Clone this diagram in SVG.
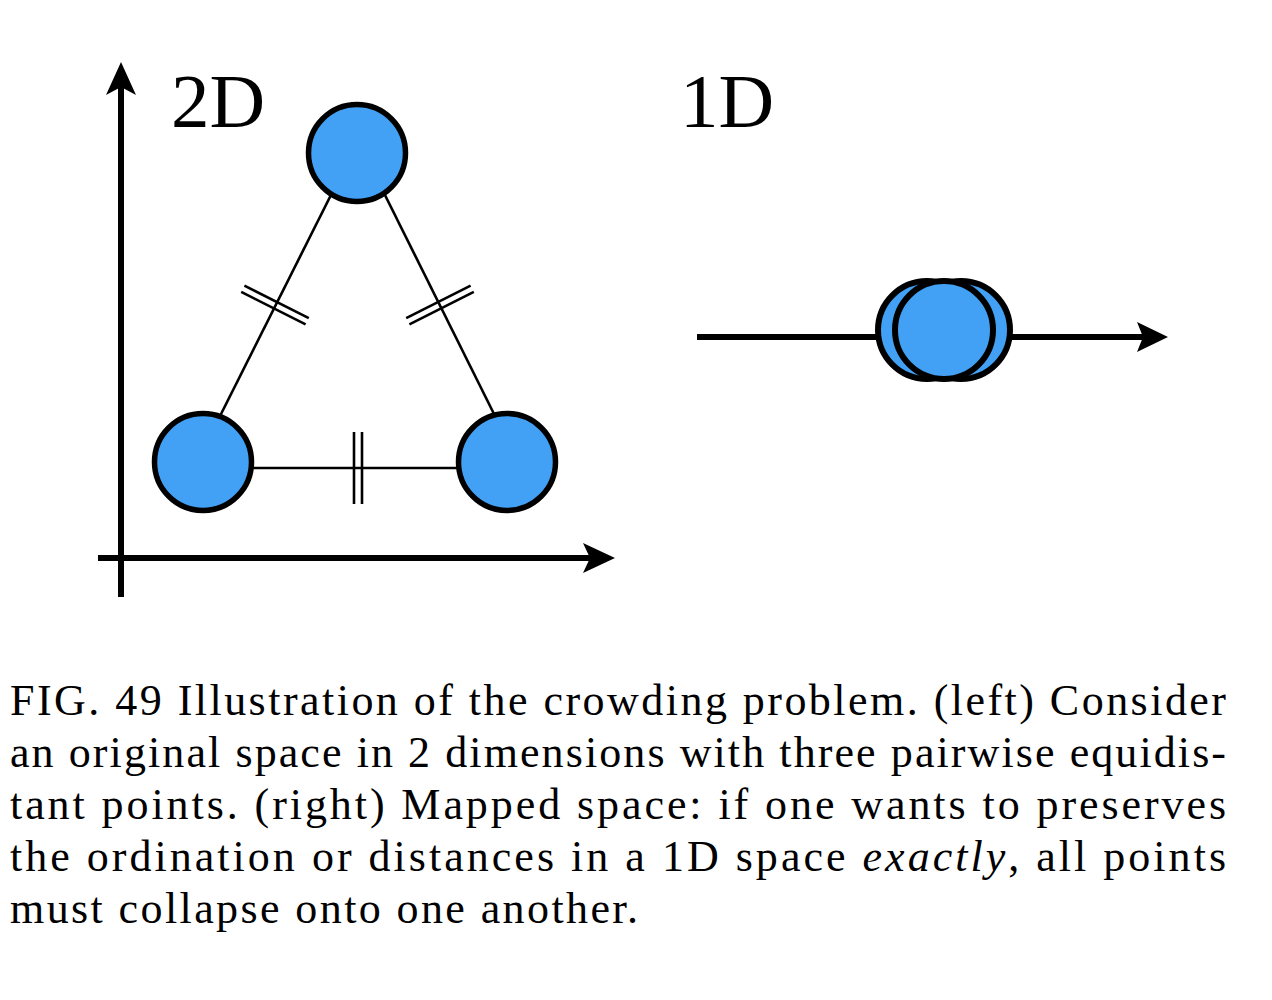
<svg xmlns="http://www.w3.org/2000/svg" width="1272" height="1000" viewBox="0 0 1272 1000">
<style>
.pt{fill:#42A1F5;stroke:#000;stroke-width:5.5}
.pt1{fill:#42A1F5;stroke:#000;stroke-width:6}
.edge{stroke:#000;stroke-width:2.6;fill:none}
.axis{stroke:#000;stroke-width:6;fill:none}
.head{fill:#000}
.lbl{font-family:"Liberation Serif","DejaVu Serif",serif;font-size:77px;fill:#000}
.cap{font-family:"Liberation Serif","DejaVu Serif",serif;font-size:44px;fill:#000}
</style>
<rect width="1272" height="1000" fill="#fff"/>
<g id="connectors">
  <line class="axis" x1="121" y1="597" x2="121" y2="86"/>
  <polygon class="head" points="121,62 136,95 121,87 106,95"/>
  <line class="axis" x1="98" y1="558" x2="592" y2="558"/>
  <polygon class="head" points="615,558 583,543 590,558 583,573"/>
  <line class="axis" x1="697" y1="337" x2="1145" y2="337"/>
  <polygon class="head" points="1168,337 1137,322 1143,337 1137,352"/>
  <line class="edge" x1="341" y1="175" x2="211" y2="434"/>
  <line class="edge" x1="375" y1="175" x2="504" y2="434"/>
  <line class="edge" x1="203" y1="468" x2="507" y2="468"/>
  <line class="edge" x1="241.2" y1="291.9" x2="305.6" y2="324.3"/>
  <line class="edge" x1="244.4" y1="285.7" x2="308.8" y2="318.1"/>
  <line class="edge" x1="409.4" y1="324.3" x2="473.8" y2="291.9"/>
  <line class="edge" x1="406.2" y1="318.1" x2="470.6" y2="285.7"/>
  <line class="edge" x1="354" y1="432" x2="354" y2="504"/>
  <line class="edge" x1="362" y1="432" x2="362" y2="504"/>
</g>
<g id="node-top"><circle class="pt" cx="357" cy="153" r="48.5"/></g>
<g id="node-left"><circle class="pt" cx="203" cy="462" r="48.5"/></g>
<g id="node-right"><circle class="pt" cx="507" cy="462" r="48.5"/></g>
<g id="node-1d">
  <circle class="pt1" cx="927" cy="330" r="49"/>
  <circle class="pt1" cx="961" cy="330" r="49"/>
  <circle class="pt1" cx="944" cy="330" r="49"/>
</g>
<g id="labels">
  <text class="lbl" x="171" y="127">2D</text>
  <text class="lbl" x="680" y="127">1D</text>
</g>
<g id="caption">
  <text class="cap" x="10" y="715" textLength="1216" lengthAdjust="spacing">FIG. 49  Illustration of the crowding problem. (left) Consider</text>
  <text class="cap" x="10" y="767" textLength="1216" lengthAdjust="spacing">an original space in 2 dimensions with three pairwise equidis-</text>
  <text class="cap" x="10" y="819" textLength="1216" lengthAdjust="spacing">tant points. (right) Mapped space: if one wants to preserves</text>
  <text class="cap" x="10" y="871" textLength="1216" lengthAdjust="spacing">the ordination or distances in a 1D space <tspan font-style="italic">exactly</tspan>, all points</text>
  <text class="cap" x="10" y="923" textLength="628" lengthAdjust="spacing">must collapse onto one another.</text>
</g>
</svg>
